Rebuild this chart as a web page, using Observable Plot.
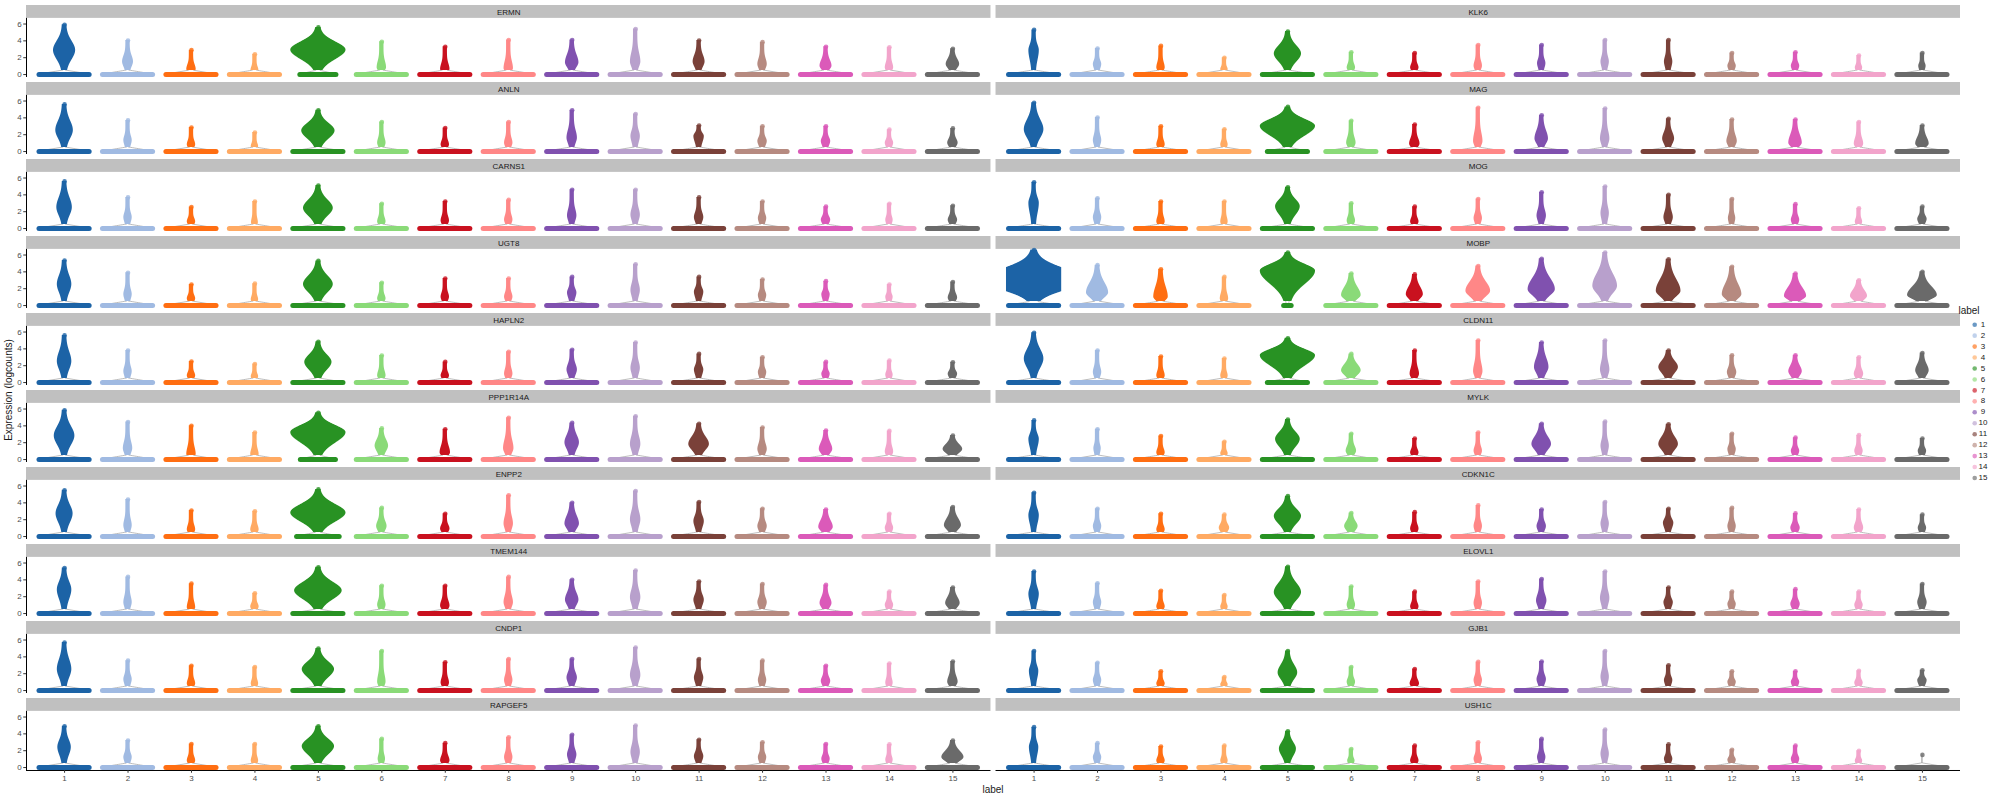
<!DOCTYPE html>
<html>
<head>
<meta charset="utf-8">
<script src="https://cdn.jsdelivr.net/npm/d3@7"></script>
<script src="https://cdn.jsdelivr.net/npm/@observablehq/plot@0.6"></script>
<style>
  body { margin: 0; background: #fff; }
  #chart { position: relative; width: 2000px; height: 800px; }
</style>
</head>
<body>
<div id="chart"></div>
<script>
// ---- Data ----
// Facet order (facet_wrap, 2 columns, filled row by row)
const genes = ["ERMN","KLK6","ANLN","MAG","CARNS1","MOG","UGT8","MOBP","HAPLN2","CLDN11",
               "PPP1R14A","MYLK","ENPP2","CDKN1C","TMEM144","ELOVL1","CNDP1","GJB1","RAPGEF5","USH1C"];
const labels = ["1","2","3","4","5","6","7","8","9","10","11","12","13","14","15"];
const palette = ["#1c63a6","#a0bae2","#ff6e12","#ffaa63","#289223","#8ada78","#c9111f","#ff8787",
                 "#8051af","#b8a0cc","#7a4139","#b68a80","#db5ab9","#f2a4cb","#6a6a6a"];
const yTicks = [0, 2, 4, 6];

// highest expression value per gene x label (top of violin / top point)
const topValues = [
  [5.9,4.05,2.9,2.4,5.6,3.9,3.3,4.1,4.1,5.4,4.05,3.85,3.3,3.25,3.05],   // ERMN
  [5.3,3.1,3.4,2.0,5.1,2.65,2.55,3.5,3.5,4.1,4.1,2.55,2.65,2.25,2.55],  // KLK6
  [5.6,3.7,2.85,2.25,4.9,3.5,2.8,3.5,4.9,4.45,3.1,3.0,3.0,2.6,2.75],    // ANLN
  [5.8,4.05,3.0,2.65,5.3,3.65,3.2,5.2,4.3,5.1,3.9,3.8,3.8,3.5,3.1],     // MAG
  [5.6,3.7,2.55,3.2,5.1,2.95,3.2,3.4,4.6,4.6,3.7,3.2,2.6,2.95,2.7],     // CARNS1
  [5.5,3.6,3.2,3.2,4.9,3.0,2.6,3.5,4.3,5.0,4.0,3.5,2.9,2.4,2.6],        // MOG
  [5.35,3.9,2.5,2.6,5.3,2.7,3.2,3.2,3.4,4.9,3.4,3.1,2.9,2.5,2.8],       // UGT8
  [6.6,4.8,4.3,3.4,6.3,3.8,3.7,4.7,5.55,6.3,5.5,4.6,3.8,3.0,4.0],       // MOBP
  [5.6,3.8,2.5,2.2,4.85,3.2,2.45,3.65,3.9,4.75,3.4,3.0,2.45,2.6,2.4],   // HAPLN2
  [5.9,3.8,3.1,2.85,5.25,3.4,3.8,5.0,4.75,5.0,3.8,3.25,3.25,3.0,3.5],   // CLDN11
  [5.85,4.45,4.0,3.2,5.55,3.7,3.6,4.95,4.35,5.15,4.25,3.8,3.45,3.4,2.85], // PPP1R14A
  [4.65,3.6,2.8,2.1,4.75,3.05,2.5,3.2,4.25,4.5,4.2,3.05,2.6,2.9,2.5],   // MYLK
  [5.5,4.4,3.1,3.0,5.6,3.4,2.7,4.9,4.0,5.4,4.1,3.3,3.2,2.7,3.5],        // ENPP2
  [5.2,3.3,2.7,2.6,4.8,2.8,2.9,3.7,3.2,4.1,3.3,3.4,2.75,3.2,2.6],       // CDKN1C
  [5.4,4.35,3.55,2.4,5.5,3.3,3.3,4.35,4.0,5.1,3.8,3.5,3.4,2.6,3.1],     // TMEM144
  [5.0,3.6,2.7,2.2,5.55,3.2,2.6,3.8,4.1,5.0,3.1,2.6,2.9,2.6,3.5],       // ELOVL1
  [5.7,3.55,2.95,2.8,5.0,4.7,3.35,3.75,3.75,5.1,3.75,3.55,2.95,3.2,3.45], // CNDP1
  [4.7,3.3,2.3,1.6,4.7,2.8,2.55,3.4,3.45,4.7,3.0,2.3,2.3,2.35,2.4],     // GJB1
  [4.9,3.2,2.8,2.8,4.9,3.4,2.9,3.6,3.9,5.0,3.3,3.0,2.8,2.75,3.2],       // RAPGEF5
  [4.8,2.9,2.5,2.6,4.3,2.2,2.6,3.0,3.4,4.5,2.75,2.1,2.6,2.0,1.5]        // USH1C
];
// expression level where the non-zero cells are densest
const modeValues = [
  [2.86,1.5,0.6,0.5,2.9,0.8,0.6,0.7,1.4,1.5,1.5,1.2,1.0,0.8,1.2],
  [2.85,1.2,0.8,0.6,2.45,0.8,0.8,1.0,1.3,1.5,1.5,1.0,1.0,0.8,1.0],
  [2.5,1.3,0.8,0.6,2.45,1.0,0.8,1.0,1.6,1.8,1.8,1.2,1.2,1.0,1.0],
  [2.6,1.3,0.8,0.8,3.0,1.0,0.9,1.2,1.5,1.5,1.5,1.2,1.0,0.9,0.9],
  [2.5,1.3,0.8,0.7,2.4,0.8,0.9,1.0,1.5,1.6,1.3,1.2,1.0,1.0,1.0],
  [3.0,1.3,0.8,0.8,2.6,0.9,0.8,1.2,1.5,1.8,1.3,1.2,1.0,0.8,1.1],
  [2.5,1.3,0.8,0.7,2.5,0.8,1.0,1.0,1.5,1.8,1.6,1.2,1.3,1.0,0.9],
  [3.0,1.5,1.0,0.8,4.1,1.2,1.3,1.7,1.9,2.3,1.7,1.3,1.1,1.1,1.2],
  [2.5,1.3,0.8,0.7,2.4,0.8,0.8,1.0,1.5,1.7,1.5,1.2,1.0,0.9,1.0],
  [2.8,1.2,0.8,0.8,3.2,1.4,1.0,1.3,1.8,1.5,1.8,1.2,1.3,1.0,1.4],
  [2.8,1.3,0.6,0.6,3.2,1.6,0.8,1.3,2.0,1.8,1.8,1.2,1.2,0.9,1.2],
  [2.4,1.3,0.8,0.7,2.4,1.0,0.8,1.0,1.8,1.6,1.8,1.2,1.0,1.0,1.0],
  [2.7,1.3,0.8,0.8,2.8,1.2,0.9,1.5,1.5,2.0,1.8,1.2,1.1,1.0,1.3],
  [2.5,1.2,0.8,1.0,2.4,1.2,0.9,1.2,1.2,1.5,1.6,1.2,1.0,1.0,1.0],
  [2.8,1.3,0.7,0.8,2.7,1.0,0.9,1.3,1.6,1.9,1.6,1.3,1.2,1.0,1.2],
  [2.3,1.3,0.8,0.8,2.5,1.0,0.8,1.2,1.5,1.8,1.3,1.1,1.1,1.0,1.3],
  [2.5,1.3,0.8,0.8,2.5,1.0,0.9,1.2,1.5,1.8,1.5,1.2,1.1,0.9,1.0],
  [2.3,1.2,0.8,0.7,2.1,1.0,0.8,1.2,1.3,1.6,1.2,1.0,1.0,0.9,1.2],
  [2.4,1.2,0.8,0.8,2.5,1.0,0.8,1.2,1.5,1.8,1.3,1.2,1.0,0.9,1.2],
  [2.4,1.2,0.8,0.8,2.2,0.8,0.8,1.0,1.2,1.6,1.0,0.9,1.0,0.8,1.0]
];
// relative width of the non-zero body (1 = full violin width)
const bodyWidths = [
  [0.35,0.13,0.1,0.07,1.0,0.1,0.1,0.1,0.18,0.12,0.15,0.1,0.15,0.08,0.18],
  [0.12,0.08,0.08,0.06,0.45,0.08,0.08,0.08,0.08,0.08,0.08,0.08,0.08,0.06,0.06],
  [0.26,0.08,0.08,0.06,0.57,0.08,0.08,0.08,0.12,0.1,0.12,0.1,0.1,0.08,0.12],
  [0.3,0.08,0.08,0.06,1.0,0.1,0.12,0.1,0.18,0.1,0.15,0.12,0.18,0.1,0.18],
  [0.22,0.08,0.08,0.05,0.5,0.08,0.08,0.08,0.1,0.1,0.1,0.08,0.1,0.06,0.1],
  [0.12,0.08,0.08,0.06,0.4,0.08,0.08,0.08,0.1,0.08,0.1,0.06,0.08,0.06,0.1],
  [0.2,0.08,0.08,0.06,0.5,0.08,0.08,0.08,0.1,0.1,0.1,0.08,0.08,0.06,0.1],
  [2.0,0.35,0.2,0.08,1.0,0.3,0.25,0.4,0.45,0.4,0.4,0.3,0.35,0.25,0.5],
  [0.2,0.08,0.08,0.06,0.45,0.08,0.08,0.08,0.12,0.1,0.1,0.08,0.08,0.06,0.1],
  [0.3,0.08,0.08,0.06,1.0,0.3,0.1,0.1,0.2,0.1,0.3,0.1,0.18,0.1,0.18],
  [0.32,0.1,0.1,0.08,1.0,0.18,0.12,0.12,0.2,0.12,0.32,0.1,0.18,0.08,0.3],
  [0.12,0.06,0.08,0.06,0.4,0.12,0.08,0.08,0.3,0.08,0.3,0.08,0.08,0.08,0.08],
  [0.25,0.08,0.08,0.08,1.0,0.12,0.1,0.1,0.2,0.12,0.12,0.1,0.2,0.08,0.25],
  [0.12,0.08,0.08,0.12,0.45,0.18,0.08,0.08,0.1,0.08,0.12,0.08,0.1,0.1,0.08],
  [0.2,0.08,0.08,0.08,0.85,0.08,0.1,0.1,0.18,0.12,0.12,0.1,0.15,0.08,0.2],
  [0.12,0.08,0.08,0.06,0.45,0.08,0.08,0.08,0.12,0.1,0.1,0.08,0.1,0.08,0.1],
  [0.2,0.08,0.08,0.06,0.55,0.08,0.08,0.08,0.12,0.12,0.1,0.08,0.1,0.06,0.12],
  [0.1,0.08,0.08,0.06,0.3,0.08,0.1,0.08,0.1,0.08,0.08,0.08,0.08,0.08,0.1],
  [0.18,0.08,0.08,0.06,0.55,0.06,0.1,0.08,0.1,0.1,0.1,0.08,0.08,0.06,0.35],
  [0.1,0.08,0.08,0.06,0.25,0.06,0.08,0.08,0.08,0.08,0.08,0.08,0.08,0.06,0]
];
// relative width of the zero-expression band at y = 0
const zeroWidths = [
  [1,1,1,1,0.72,1,1,1,1,1,1,1,1,1,1],
  [1,1,1,1,1,1,1,1,1,1,1,1,1,1,1],
  [1,1,1,1,1,1,1,1,1,1,1,1,1,1,1],
  [1,1,1,1,0.8,1,1,1,1,1,1,1,1,1,1],
  [1,1,1,1,1,1,1,1,1,1,1,1,1,1,1],
  [1,1,1,1,1,1,1,1,1,1,1,1,1,1,1],
  [1,1,1,1,1,1,1,1,1,1,1,1,1,1,1],
  [1,1,1,1,0.15,1,1,1,1,1,1,1,1,1,1],
  [1,1,1,1,1,1,1,1,1,1,1,1,1,1,1],
  [1,1,1,1,0.8,1,1,1,1,1,1,1,1,1,1],
  [1,1,1,1,0.7,1,1,1,1,1,1,1,1,1,1],
  [1,1,1,1,1,1,1,1,1,1,1,1,1,1,1],
  [1,1,1,1,0.85,1,1,1,1,1,1,1,1,1,1],
  [1,1,1,1,1,1,1,1,1,1,1,1,1,1,1],
  [1,1,1,1,1,1,1,1,1,1,1,1,1,1,1],
  [1,1,1,1,1,1,1,1,1,1,1,1,1,1,1],
  [1,1,1,1,1,1,1,1,1,1,1,1,1,1,1],
  [1,1,1,1,1,1,1,1,1,1,1,1,1,1,1],
  [1,1,1,1,1,1,1,1,1,1,1,1,1,1,1],
  [1,1,1,1,1,1,1,1,1,1,1,1,1,1,1]
];

// ---- Geometry / style constants ----
const FW = 0.435;     // half width of a full violin (x units)
const R = 0.034;      // point radius in x units
const RB = 0.04;      // zero band cap radius in x units
const NECK = 0.5;     // smallest non-zero logcount
const YMIN = -0.35, PTOP = 6.67, STRIP_TOP = 8.2;
const XMIN = 0.4, XMAX = 15.6;
const FONT = "'Liberation Sans', Arial, Helvetica, sans-serif";

// ---- Build tables ----
const violins = [];
genes.forEach((gene, gi) => labels.forEach((lab, li) => violins.push({
  gene, row: Math.floor(gi / 2), col: gi % 2, label: lab, x: li + 1,
  top: topValues[gi][li], mode: modeValues[gi][li], w: bodyWidths[gi][li], zw: zeroWidths[gi][li]
})));
const facets = genes.map((gene, gi) => ({gene, row: Math.floor(gi / 2), col: gi % 2}));
const leftFacets = facets.filter(f => f.col === 0);
const bottomFacets = facets.filter(f => f.row === 9);

function bodyShare(v, y) {
  if (v.w <= 0) return 0;
  const f = Math.min(1, 0.3 + 3.5 * v.w);          // thin spikes stay concentrated near their mode
  const sUp = Math.max(0.2, f * (v.top - v.mode) / 2.8);
  const sDown = Math.max(0.15, v.mode / 2.6);
  const d = (y - v.mode) / (y >= v.mode ? sUp : sDown);
  return Math.min(1, v.w * Math.exp(-0.5 * d * d));
}
const outlinePts = [], bodyPts = [];
for (const v of violins) {
  const n = Math.ceil(v.top / 0.04);
  for (let k = 0; k <= n; k++) {
    const y = Math.min(v.top, k * 0.04);
    const b = bodyShare(v, y);
    const taper = y < NECK ? v.zw * (FW - RB) * (1 - y / NECK) : 0;
    const o = Math.max(taper, b * (FW - R));
    outlinePts.push({row: v.row, col: v.col, label: v.label, y, x1: v.x - o, x2: v.x + o});
    if (v.w > 0 && y >= 0.45) {
      const h = R + b * (FW - R);
      bodyPts.push({row: v.row, col: v.col, label: v.label, y, x1: v.x - h, x2: v.x + h});
    }
  }
}

const chart = Plot.plot({
  width: 2000, height: 800,
  marginTop: 5, marginBottom: 30, marginLeft: 26, marginRight: 40,
  facet: {marginTop: 0, marginBottom: 0, marginLeft: 0, marginRight: 0},
  fx: {domain: [0, 1], paddingInner: 0.0052, paddingOuter: 0, axis: null, round: false},
  fy: {domain: d3.range(10), paddingInner: 0.065, paddingOuter: 0, axis: null, round: false},
  x: {domain: [XMIN, XMAX]},
  y: {domain: [YMIN, STRIP_TOP]},
  color: {type: "ordinal", domain: labels, range: palette},
  style: {fontFamily: FONT, fontSize: "8px", background: "#fff"},
  marks: [
    // strips
    Plot.rect(facets, {x1: XMIN, x2: XMAX, y1: PTOP, y2: STRIP_TOP, fx: "col", fy: "row", fill: "#c0c0c0"}),
    Plot.text(facets, {x: (XMIN + XMAX) / 2, y: (PTOP + STRIP_TOP) / 2 - 0.05, text: "gene", fx: "col", fy: "row",
                       fill: "#1a1a1a", fontSize: 8}),
    // violin outlines
    Plot.areaX(outlinePts, {y: "y", x1: "x1", x2: "x2", z: "label", fx: "col", fy: "row",
                            fill: "none", stroke: "#8f8f8f", strokeWidth: 0.6}),
    // zero-expression points band
    Plot.ruleY(violins, {y: 0, x1: d => d.x - d.zw * (FW - RB), x2: d => d.x + d.zw * (FW - RB),
                         fx: "col", fy: "row", stroke: "label", strokeWidth: 5, strokeLinecap: "round"}),
    // non-zero point clouds
    Plot.areaX(bodyPts, {y: "y", x1: "x1", x2: "x2", z: "label", fx: "col", fy: "row", fill: "label"}),
    // top points
    Plot.dot(violins, {x: "x", y: "top", r: 2.3, fill: "label", fillOpacity: 0.8, fx: "col", fy: "row"}),
    // axis lines
    Plot.ruleX(leftFacets, {x: XMIN, y1: YMIN, y2: PTOP, fx: "col", fy: "row", stroke: "#000", strokeWidth: 1}),
    Plot.ruleY(bottomFacets, {y: YMIN, x1: XMIN, x2: XMAX, fx: "col", fy: "row", stroke: "#000", strokeWidth: 1}),
    Plot.axisY({ticks: yTicks, facetAnchor: "left", tickSize: 2.75, tickPadding: 2, label: null,
                color: "#4d4d4d", stroke: "#333", fontSize: 8}),
    Plot.axisX({ticks: labels.map(Number), tickFormat: "d", facetAnchor: "bottom", tickSize: 2.75, tickPadding: 2,
                label: null, color: "#4d4d4d", stroke: "#333", fontSize: 8})
  ]
});
document.getElementById("chart").appendChild(chart);

// Axis titles and legend, added as SVG text
const svg = d3.select(chart);
svg.append("text").attr("transform", "translate(9,390) rotate(-90)")
  .attr("text-anchor", "middle").attr("dominant-baseline", "middle")
  .attr("font-family", FONT).attr("font-size", 10).attr("fill", "#1a1a1a").text("Expression (logcounts)");
svg.append("text").attr("x", 993).attr("y", 790)
  .attr("text-anchor", "middle").attr("dominant-baseline", "middle")
  .attr("font-family", FONT).attr("font-size", 10).attr("fill", "#1a1a1a").text("label");
const lg = svg.append("g").attr("font-family", FONT);
lg.append("text").attr("x", 1969).attr("y", 311).attr("dominant-baseline", "middle")
  .attr("font-size", 10).attr("fill", "#1a1a1a").text("label");
labels.forEach((lab, i) => {
  const y = 324.7 + i * 10.95;
  lg.append("circle").attr("cx", 1974.7).attr("cy", y).attr("r", 2.3).attr("fill", palette[i]).attr("fill-opacity", 0.65);
  lg.append("text").attr("x", 1983).attr("y", y).attr("dominant-baseline", "middle")
    .attr("font-size", 8).attr("fill", "#1a1a1a").text(lab);
});
</script>
</body>
</html>
